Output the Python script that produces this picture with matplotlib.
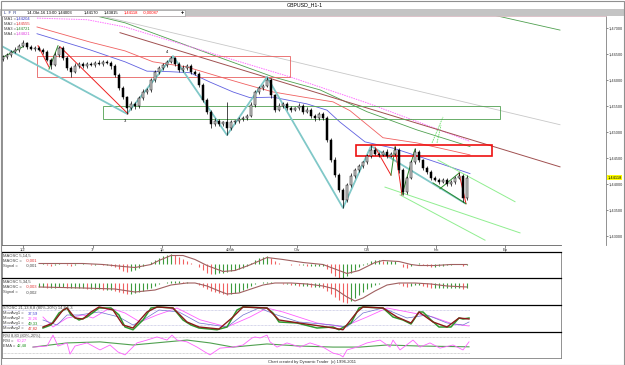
import matplotlib
matplotlib.use('Agg')
import matplotlib.pyplot as plt
from matplotlib.patches import Rectangle
import numpy as np

plt.rcParams['font.family'] = ['Liberation Sans', 'DejaVu Sans']

# ---------------- data ----------------
FIRST_OPEN = 1.4640
CLOSES = [
    1.4644, 1.4648, 1.4654, 1.4658, 1.4666, 1.4671, 1.4664, 1.4660, 1.4662, 1.4658,
    1.4654, 1.4639, 1.4629, 1.4648, 1.4662, 1.4642, 1.4623, 1.4616, 1.4627, 1.4631,
    1.4627, 1.4631, 1.4629, 1.4633, 1.4631, 1.4635, 1.4633, 1.4627, 1.4610, 1.4585,
    1.4567, 1.4546, 1.4554, 1.4550, 1.4566, 1.4577, 1.4581, 1.4600, 1.4616, 1.4623,
    1.4629, 1.4635, 1.4642, 1.4631, 1.4619, 1.4623, 1.4627, 1.4616, 1.4612, 1.4591,
    1.4562, 1.4539, 1.4516, 1.4521, 1.4516, 1.4519, 1.4508, 1.4519, 1.4521, 1.4525,
    1.4527, 1.4531, 1.4552, 1.4577, 1.4585, 1.4589, 1.4600, 1.4571, 1.4543, 1.4550,
    1.4554, 1.4546, 1.4543, 1.4546, 1.4550, 1.4539, 1.4543, 1.4531, 1.4527, 1.4535,
    1.4527, 1.4485, 1.4446, 1.4418, 1.4389, 1.4369, 1.4398, 1.4416, 1.4427, 1.4435,
    1.4442, 1.4454, 1.4466, 1.4458, 1.4456, 1.4462, 1.4454, 1.4458, 1.4466, 1.4427,
    1.4385, 1.4412, 1.4442, 1.4462, 1.4446, 1.4431, 1.4423, 1.4412, 1.4408, 1.4404,
    1.4408, 1.4400, 1.4404, 1.4412, 1.4416, 1.4373, 1.4412,
]
# wick length beyond the body, in pips
UP_WICK = [
    4, 3, 4, 5, 4, 6, 3, 4, 3, 4,  3, 4, 4, 5, 4, 3, 4, 3, 5, 3,
    4, 3, 4, 3, 5, 3, 4, 3, 4, 3,  4, 3, 5, 4, 3, 5, 4, 3, 4, 4,
    3, 4, 4, 3, 4, 5, 3, 4, 3, 4,  3, 4, 3, 5, 4, 3, 39, 4, 3, 4,
    3, 4, 5, 4, 3, 4, 6, 4, 3, 5,  4, 3, 4, 3, 5, 4, 6, 3, 4, 3,
    4, 3, 4, 5, 3, 4, 4, 5, 3, 4,  3, 4, 9, 3, 4, 3, 5, 4, 7, 3,
    4, 3, 4, 7, 4, 3, 4, 3, 4, 3,  4, 3, 4, 3, 7, 4, 5,
]
DN_WICK = [
    4, 3, 4, 3, 4, 3, 4, 3, 4, 3,  4, 3, 8, 3, 4, 3, 4, 10, 3, 4,
    3, 4, 3, 4, 3, 4, 3, 5, 4, 5,  4, 11, 4, 5, 3, 4, 3, 4, 3, 4,
    3, 4, 3, 4, 3, 4, 3, 4, 3, 5,  4, 5, 8, 4, 5, 4, 14, 4, 3, 4,
    3, 4, 3, 4, 3, 4, 3, 5, 4, 3,  4, 3, 4, 3, 4, 5, 3, 4, 5, 3,
    4, 5, 4, 5, 4, 15, 4, 3, 4, 3,  4, 3, 4, 3, 4, 3, 4, 3, 4, 5,
    6, 4, 3, 4, 3, 4, 3, 4, 3, 4,  3, 4, 3, 4, 3, 7, 4,
]

MA1_BARS = [8.5, 21.75, 30.5, 36, 41.75, 46.75, 51.75, 57.5, 61.75, 67.5, 76, 81, 84.25, 90.5, 97.5, 106.75, 116.75]
MA1_VALS = [1.4689, 1.4658, 1.4635, 1.4617, 1.4616, 1.4614, 1.4596, 1.4577, 1.4566, 1.4567, 1.4554, 1.4542, 1.4519, 1.4481, 1.4469, 1.4446, 1.4420]
MA2_BARS = [8.5, 21.75, 30.5, 37.5, 46, 54.25, 60.5, 67.5, 76, 82.5, 86.75, 95, 103.5, 116.75]
MA2_VALS = [1.4702, 1.4673, 1.4656, 1.4635, 1.4625, 1.4606, 1.4592, 1.4577, 1.4566, 1.4558, 1.4541, 1.4489, 1.4479, 1.4456]
MA3_BARS = [21.25, 30.5, 52.5, 67.5, 79.25, 91, 103.5, 116.75]
MA3_VALS = [1.4727, 1.4710, 1.4648, 1.4606, 1.4581, 1.4539, 1.4504, 1.4472]
MA4_BARS = [8.5, 21, 30.5, 57.5, 71.75, 91, 116.75]
MA4_VALS = [1.4719, 1.4716, 1.4702, 1.4639, 1.4606, 1.4556, 1.4482]

# drawn tools: (bar, price) pairs
TEAL_BARS = [-0.75, 31, 42.5, 56, 66, 85, 92, 115.5]
TEAL_VALS = [1.4667, 1.4535, 1.4646, 1.4494, 1.4606, 1.4354, 1.4473, 1.4363]
RED_SEGS = [((8.75, 11.5), (1.4666, 1.4625)), ((14.25, 31.25), (1.4664, 1.4535)),
            ((93, 97), (1.4471, 1.4417)), ((98, 99.75), (1.4471, 1.4379)),
            ((114, 115.75), (1.4421, 1.4362))]
GREEN_SEGS = [((-0.75, 5), (1.4641, 1.4664)), ((11.5, 13.75), (1.4621, 1.4666)),
              ((97, 98), (1.4417, 1.4471)), ((99.75, 103), (1.4379, 1.4467)),
              ((109.25, 114), (1.4391, 1.4421)), ((107.5, 115.75), (1.4402, 1.4362))]
LIGHT_GREEN_SEGS = [((95.5, 129.25), (1.4394, 1.4306)), ((99.25, 120.5), (1.4379, 1.4292)),
                    ((108.75, 128), (1.4446, 1.4366))]
ARROW_SEGS = [((107.25, 110), (1.4479, 1.4529)), ((108.5, 109.5), (1.4479, 1.4513))]
MAROON_LINE = ((29.25, 139.25), (1.4691, 1.4433))
GRAY_LINE = ((19.25, 139.25), (1.4733, 1.4514))
TOP_GREEN_LINE = ((109.25, 139.25), (1.4748, 1.4696))

# oscillators (start at bar 9)
OSC_START = 9
OSC1 = [0, 1, -1, -2, -1, 1, 0, -1, -2, -1, 0, 1, 0,
        -1, -1, 0, -1, -1, -2, -3, -5, -7, -8, -7, -6,
        -4, -2, 0, 2, 4, 6, 8, 9, 10, 9, 7, 5, 3, 1, 0,
        -3, -6, -9, -10, -10, -9, -9, -8, -7, -6, -5, -4,
        -2, 1, 4, 6, 7, 8, 6, 3, 1, 0,
        0, -1, 0, -1, -1, -2, -2, -2, -2, -2,
        -5, -9, -12, -14, -14, -12, -9, -6, -3, -1, 1,
        3, 4, 4, 3, 3, 3, 3, 0, -3, -4, -2, 0, 1,
        -1, -2, -3, -3, -2, -2, -1, -1, 0, 0, -2, -1]
SIG1_BARS = [9, 20, 25, 30, 33, 37, 39, 42, 45, 48, 51, 55, 58, 62, 66, 70, 75, 80, 84, 86, 89, 93, 95, 99, 102, 104, 108, 112, 116]
SIG1_VALS = [0, 0, -1, -3, -4, -1, 3, 8, 8, 4, -2, -8, -7, -1, 6, 4, 1, -1, -7, -10, -7, 1, 3, 2, -1, -2, -2, -1, -1]
OSC2 = [-4, -4, -5, -5, -5, -4, -4, -5, -5, -5, -5, -5, -6,
        -6, -6, -6, -7, -7, -7, -8, -9, -10, -11, -11, -10,
        -9, -8, -6, -5, -3, -1, 0,
        1, 2, 2, 2, 1, 1, 0, 0,
        -2, -4, -6, -8, -9, -10, -11, -12,
        -11, -10, -9, -7, -5, -3,
        -1, 0, 1, 1, 1, 0, 0, -1,
        -1, -2, -2, -3, -3, -3, -4, -4, -4, -5,
        -8, -11, -14, -17, -19, -20,
        -18, -15, -12, -9, -6, -4, -2,
        -1, 0, 0, 0, 0, -1, -3,
        -4, -3, -2, -2, -3, -4, -5, -5, -5, -5,
        -5, -5, -5, -5, -6, -5]
SIG2_BARS = [9, 20, 28, 33, 38, 42, 46, 48, 51, 54, 56, 59, 62, 65, 68, 72, 76, 80, 83, 86, 88, 90, 93, 96, 99, 103, 107, 111, 116]
SIG2_VALS = [-4, -5, -6, -9, -7, -2, 0, 0, -3, -8, -11, -10, -6, -2, 0, 0, -1, -3, -6, -14, -18, -15, -8, -2, 0, 0, -1, -3, -4]

STO_GREEN_BARS = [10, 12, 14, 16, 17, 19, 21, 24, 27, 29, 30.5, 32.5, 35, 37, 39, 42.5, 45, 47, 49, 53.5,
                  56, 58.5, 60, 66, 67.5, 69, 73.5, 78.5, 82.5, 84, 87, 89, 90, 95, 97.5, 100, 102, 104, 105, 107,
                  109, 112, 114, 115, 116.5]
STO_GREEN_VALS = [7, 19, 67, 87, 59, 39, 51, 87, 87, 59, 11, 0, 39, 87, 91, 87, 39, 19, 7, 0,
                  11, 79, 91, 87, 67, 31, 27, 7, 11, 0, 27, 87, 91, 87, 51, 39, 23, 71, 71, 39,
                  11, 11, 47, 43, 47]
STO_RED_BARS = [10, 12.5, 15, 16, 18, 20, 22, 24, 27.5, 30, 32.5, 36, 38.5, 42.5, 46, 49, 54, 57.5, 60, 66,
                69, 74, 81, 85, 88.5, 90, 95, 98.5, 102, 104, 107.5, 111, 114, 116.5]
STO_RED_VALS = [11, 27, 79, 87, 47, 43, 71, 91, 79, 19, 7, 71, 91, 87, 31, 11, 3, 51, 91, 87,
                39, 27, 11, 0, 71, 91, 87, 51, 27, 71, 31, 11, 47, 43]
STO_BLUE_BARS = [10, 13.5, 16, 19, 24, 29, 32.5, 35, 39, 44, 49, 56, 60, 64, 68.5, 74, 82.5, 86, 90, 95,
                 101, 106, 111, 115, 116.5]
STO_BLUE_VALS = [39, 19, 59, 59, 71, 51, 19, 39, 79, 71, 27, 11, 59, 87, 59, 31, 19, 11, 67, 87,
                 47, 59, 27, 19, 31]
STO_PINK_BARS = [10, 12.5, 16, 20, 22.5, 26.75, 30.5, 34.25, 38.5, 43.5, 49.25, 56, 61.75, 66, 70, 78.5,
                 85, 91, 96, 102.5, 107.5, 112.5, 116.5]
STO_PINK_VALS = [51, 11, 47, 59, 47, 87, 67, 31, 59, 87, 40, 11, 51, 87, 71, 27, 11, 51, 87, 67, 51, 23, 15]

RSI_BARS = [7.5, 11, 12.5, 13.75, 16, 16.75, 18, 21, 24.25, 26.75, 28.75, 30.5, 33.5, 36, 38.5, 41, 42.25,
            43.5, 46, 48.5, 50.5, 51.75, 54.25, 57.5, 60, 62.25, 63, 64.25, 66, 66.75, 68.5, 71, 74.25,
            76.75, 80, 82.5, 84.25, 85, 86, 88.5, 91, 94.25, 96.75, 97.5, 99.25, 102.5, 104.25, 106.75,
            109.25, 112.5, 115, 116.5]
RSI_VALS = [42, 46, 88, 46, 58, 15, 46, 58, 31, 50, 23, 12, 58, 69, 81, 69, 88, 69, 62, 42,
            23, 12, 38, 42, 50, 77, 81, 77, 88, 62, 42, 58, 42, 58, 42, 19, 12, 4, 31, 42,
            58, 69, 42, 69, 31, 69, 42, 58, 38, 50, 31, 62]
EMA_BARS = [7.5, 16, 24.25, 32.5, 41, 46, 51.75, 57.5, 66, 74.25, 82.5, 89.25, 96, 104.25, 116.5]
EMA_VALS = [42, 58, 62, 50, 62, 69, 58, 42, 54, 46, 42, 42, 50, 46, 43]

DATE_TICKS = [5, 22.5, 39.75, 56.75, 73.5, 91, 108.25, 125.5]
DATE_LABELS = ['1/2', '7r', '1p', '4/8th', 'Ow', 'OS', 'Ink', 'Ep']
PRICE_TICKS = [1.430, 1.435, 1.440, 1.445, 1.450, 1.455, 1.460, 1.465, 1.470]
LAST_PRICE = 1.44118

# ---------------- figure ----------------
W, H = 625, 365
FS = 3.0
fig = plt.figure(figsize=(W / 100, H / 100), dpi=100)
fig.patch.set_facecolor('white')


def px_axes(x0, y0, x1, y1):
    return fig.add_axes([x0 / W, 1 - y1 / H, (x1 - x0) / W, (y1 - y0) / H])


def fmt(v, d=5):
    return f'{v:.{d}f}'.replace('.', ',')


# title + tool bar
fig.patches.append(Rectangle((0, 1 - 16 / H), 1, 7 / H, transform=fig.transFigure,
                             facecolor='#c4c4c4', edgecolor='none'))
fig.patches.append(Rectangle((1 / W, 1 - 16 / H), 184 / W, 6 / H, transform=fig.transFigure,
                             facecolor='white', edgecolor='#909090', lw=0.4))
fig.text(305 / W, 1 - 5 / H, 'GBPUSD_H1-1', fontsize=3.8, ha='center', va='center')
ty = 1 - 13 / H
fig.text(4 / W, ty, 'L  F  R', fontsize=FS, va='center', color='#203080')
fig.text(27 / W, ty, '14-Okt-16 13:00', fontsize=FS, va='center')
fig.text(58 / W, ty, '1,44003', fontsize=FS, va='center')
fig.text(84 / W, ty, '1,44170', fontsize=FS, va='center')
fig.text(104 / W, ty, '1,43815', fontsize=FS, va='center')
fig.text(124 / W, ty, '1,44118', fontsize=FS, va='center', color='red')
fig.text(143 / W, ty, '-0,00087', fontsize=FS, va='center', color='red')
fig.text(181 / W, ty, '+', fontsize=4, va='center', fontweight='bold')

# ---------------- main price chart ----------------
ax = px_axes(2, 16, 606, 245)
ax.set_xlim(-0.25, 150.75)
ax.set_ylim(1.428269, 1.472308)
ax.set_facecolor('white')
for s in ax.spines.values():
    s.set_color('#808080')
    s.set_linewidth(0.6)
ax.spines['top'].set_color('#d8b8c0')
ax.spines['top'].set_linestyle((0, (2, 1)))
ax.spines['bottom'].set_bounds(-0.25, 139.5)
ax.spines['bottom'].set_color('#606060')

ax.yaxis.tick_right()
ax.set_yticks(PRICE_TICKS)
ax.set_yticklabels([fmt(v) for v in PRICE_TICKS])
ax.tick_params(axis='y', labelsize=2.8, length=1.5, width=0.4, pad=0.5, colors='#333333')
ax.set_xticks(DATE_TICKS)
ax.set_xticklabels(DATE_LABELS)
ax.tick_params(axis='x', labelsize=FS, length=2, width=0.4, pad=0.5, colors='#333333')

# moving averages
ax.plot(MA1_BARS, MA1_VALS, color='#6060e0', lw=0.6, zorder=2)
ax.plot(MA2_BARS, MA2_VALS, color='#f06060', lw=0.6, zorder=2)
ax.plot(MA3_BARS, MA3_VALS, color='#50a050', lw=0.6, zorder=2)
ax.plot(MA4_BARS, MA4_VALS, color='#ff70ff', lw=0.7, ls=(0, (1.5, 1)), zorder=2)

# trend lines / tools
ax.plot(*GRAY_LINE, color='#c8c8c8', lw=0.6, zorder=1)
ax.plot(*MAROON_LINE, color='#a05050', lw=0.7, zorder=2)
ax.plot(*TOP_GREEN_LINE, color='#50a050', lw=0.6, zorder=2)
for xs, ys in LIGHT_GREEN_SEGS:
    ax.plot(xs, ys, color='#90ee90', lw=0.7, zorder=2)
for xs, ys in ARROW_SEGS:
    ax.plot(xs, ys, color='#66dd66', lw=0.6, ls=(0, (2, 1)), zorder=2)
ax.plot(TEAL_BARS, TEAL_VALS, color='#80c8c8', lw=1.3, zorder=2.5)
for xs, ys in RED_SEGS:
    ax.plot(xs, ys, color='#ee2020', lw=0.7, zorder=3)
for xs, ys in GREEN_SEGS:
    ax.plot(xs, ys, color='#2e8b2e', lw=0.7, zorder=3)

ax.add_patch(Rectangle((8.5, 1.4606), 63.25, 0.00404, facecolor='none',
                       edgecolor='#e86060', lw=0.6, zorder=2))
ax.add_patch(Rectangle((25, 1.4525), 99.25, 0.0025, facecolor='none',
                       edgecolor='#50a050', lw=0.6, zorder=2))
ax.add_patch(Rectangle((88.25, 1.4454), 34, 0.00212, facecolor='none',
                       edgecolor='#ee1010', lw=1.2, zorder=3))
ax.text(30.5, 1.4521, '3', fontsize=FS, ha='center', va='center')
ax.text(41, 1.4654, '4', fontsize=FS, ha='center', va='center')

# candles
closes = np.array(CLOSES)
opens = np.r_[FIRST_OPEN, closes[:-1]]
highs = np.maximum(opens, closes) + np.array(UP_WICK) * 1e-4
lows = np.minimum(opens, closes) - np.array(DN_WICK) * 1e-4
bars = np.arange(len(closes))
ax.vlines(bars, lows, highs, color='black', lw=0.5, zorder=4)
for b, o, c in zip(bars, opens, closes):
    body = max(abs(c - o), 0.00005)
    ax.add_patch(Rectangle((b - 0.36, min(o, c)), 0.72, body,
                           facecolor='#d4d4d4' if c >= o else 'black',
                           edgecolor='black', lw=0.35, zorder=5))

# MA legend
for k, (name, val, col) in enumerate([('MA1', 1.44204, '#3030c0'), ('MA2', 1.44555, '#e03030'),
                                      ('MA3', 1.44721, '#208020'), ('MA4', 1.44821, '#e040e0')]):
    yy = 1 - (19 + 5 * k) / H
    fig.text(4 / W, yy, f'{name} =', fontsize=FS, va='center', color='#404040')
    fig.text(16 / W, yy, fmt(val), fontsize=FS, va='center', color=col)

# last price marker
ax.annotate(fmt(LAST_PRICE), xy=(1.0, LAST_PRICE), xycoords=('axes fraction', 'data'),
            xytext=(1.0, 0), textcoords='offset points', fontsize=2.8, va='center', ha='left',
            bbox=dict(boxstyle='square,pad=0.15', facecolor='#ffff00', edgecolor='none'))


# ---------------- indicator panels ----------------
PANEL_W = 559.0


def panel(y0, y1):
    a = px_axes(2, y0, 561, y1)
    a.set_xlim(-0.25, 139.5)
    a.set_xticks([])
    a.set_yticks([])
    for s in a.spines.values():
        s.set_color('#808080')
        s.set_linewidth(0.6)
    a.spines['top'].set_color('black')
    a.spines['top'].set_linewidth(0.9)
    return a


def hist(a, vals):
    vals = np.array(vals)
    xs = np.arange(OSC_START, OSC_START + len(vals))
    prev = np.r_[vals[0], vals[:-1]]
    cols = np.where(vals >= prev, '#3c9a3c', '#f06060')
    a.vlines(xs, 0, vals, colors=cols, lw=0.8)


def label(a, lines, top=0.86, step=0.19):
    # each part: (text, colour, x offset in pixels)
    for k, parts in enumerate(lines):
        for txt, col, xpx in parts:
            a.text((xpx + 1) / PANEL_W, top - k * step, txt, transform=a.transAxes,
                   fontsize=FS, color=col, va='center', ha='left')


m1 = panel(252, 278)
m1.set_ylim(-14.5, 11.5)
hist(m1, OSC1)
m1.plot(SIG1_BARS, SIG1_VALS, color='#a06060', lw=0.8)
label(m1, [[('MAOSC 5,14,5', '#404040', 0)],
           [('MAOSC =', '#404040', 0), ('-0,001', '#e03030', 23)],
           [('Signal =', '#404040', 0), ('-0,001', '#404040', 23)]])

m2 = panel(278, 305)
m2.set_ylim(-22, 5)
hist(m2, OSC2)
m2.plot(SIG2_BARS, SIG2_VALS, color='#a06060', lw=0.8)
label(m2, [[('MAOSC 5,34,5', '#404040', 0)],
           [('MAOSC =', '#404040', 0), ('-0,003', '#e03030', 23)],
           [('Signal =', '#404040', 0), ('-0,002', '#404040', 23)]])

st = panel(305, 332)
st.set_ylim(-9, 99)
for lvl in (20, 80):
    st.axhline(lvl, xmax=(116.75 + 0.25) / 139.75, color='#b0b0d8', lw=0.5, ls=(0, (1, 1)))
st.plot(STO_PINK_BARS, STO_PINK_VALS, color='#ff60ff', lw=0.6)
st.plot(STO_BLUE_BARS, STO_BLUE_VALS, color='#7070d0', lw=0.5)
st.plot(STO_GREEN_BARS, STO_GREEN_VALS, color='#2e9a2e', lw=1.1)
st.plot(STO_RED_BARS, STO_RED_VALS, color='#8b1a1a', lw=1.0)
label(st, [[('STOSC 21,13,8,8 (80%-20%) 14,8,5,3', '#404040', 0)],
           [('MovAvg1 =', '#404040', 0), ('37,59', '#4040d0', 25)],
           [('MovAvg2 =', '#404040', 0), ('22,26', '#ff40ff', 25)],
           [('MovAvg1 =', '#404040', 0), ('49,33', '#209020', 25)],
           [('MovAvg2 =', '#404040', 0), ('47,82', '#e03030', 25)]], top=0.88, step=0.185)

rs = panel(332, 358)
rs.set_ylim(0, 100)
for lvl in (20, 80):
    rs.axhline(lvl, xmax=(116.75 + 0.25) / 139.75, color='#b0b0b0', lw=0.5, ls=(0, (1, 1)))
rs.plot(EMA_BARS, EMA_VALS, color='#50a050', lw=0.8)
rs.plot(RSI_BARS, RSI_VALS, color='#ff60ff', lw=0.6)
label(rs, [[('RSI 8,80 (80%-20%)', '#404040', 0)],
           [('RSI =', '#404040', 0), ('60,27', '#ff40ff', 14)],
           [('EMA =', '#404040', 0), ('42,48', '#209020', 14)]])

# footer and outer frame
fig.text(312 / W, 1 - 361.5 / H, 'Chart created by Dynamic Trader  (c) 1996-2011',
         fontsize=FS, ha='center', va='center', color='#303030')
fig.patches.append(Rectangle((0.5 / W, 0.5 / H), (W - 1.5) / W, (H - 1.5) / H,
                             transform=fig.transFigure, facecolor='none',
                             edgecolor='#909090', lw=0.8))

plt.savefig('out.png', dpi=100, facecolor='white')
plt.close(fig)
